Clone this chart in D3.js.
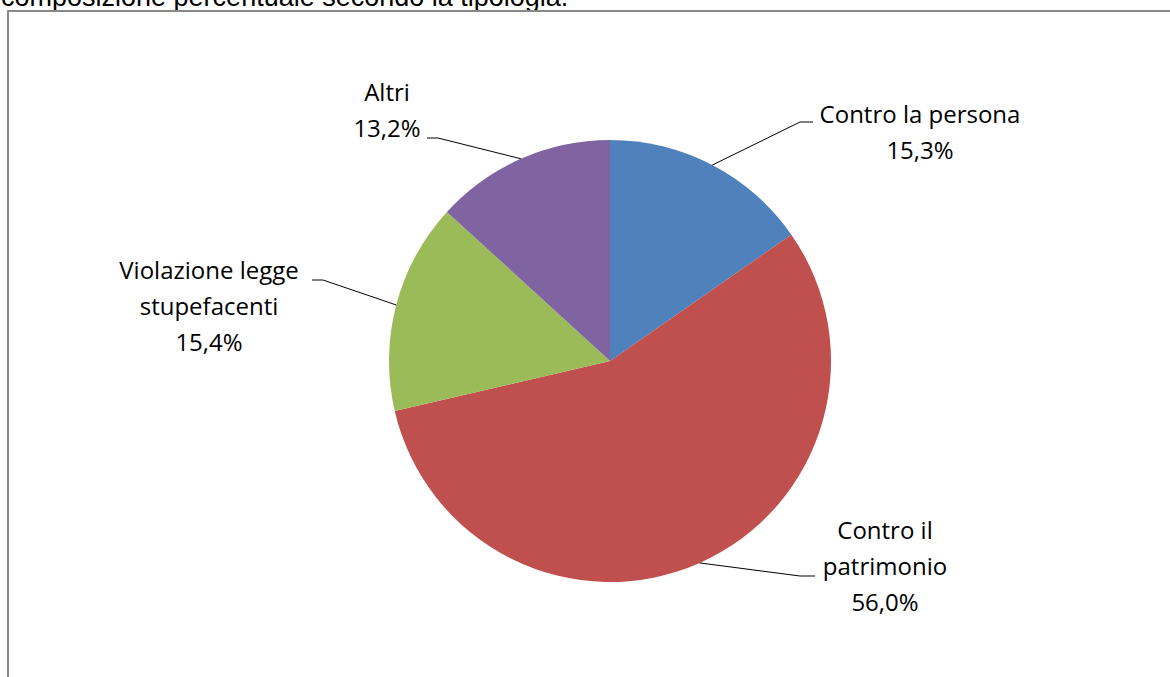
<!DOCTYPE html>
<html><head><meta charset="utf-8">
<script src="https://cdn.jsdelivr.net/npm/d3@7"></script>
<style>html,body{margin:0;padding:0;background:#fff;overflow:hidden}</style>
</head><body>
<svg id="c" width="1170" height="677"></svg>
<script>
const categories = ["Contro la persona", "Contro il patrimonio", "Violazione legge stupefacenti", "Altri"];
const values = [15.3, 56.0, 15.4, 13.2];
const valueLabels = ["15,3%", "56,0%", "15,4%", "13,2%"];
const labelLines = [["Contro la persona", "15,3%"], ["Contro il", "patrimonio", "56,0%"], ["Violazione legge", "stupefacenti", "15,4%"], ["Altri", "13,2%"]];
const colors = ["#4F81BD", "#C0504D", "#9BBB59", "#8064A2"];
const title = "composizione percentuale secondo la tipologia.";

const svg = d3.select("#c");
svg.append("text").attr("x", 1).attr("y", 6).attr("font-family", "Liberation Sans, Arial, sans-serif")
  .attr("font-size", 27).attr("fill", "#000").text(title);
svg.append("rect").attr("x", 8).attr("y", 11).attr("width", 1200).attr("height", 700)
  .attr("fill", "none").attr("stroke", "#888").attr("stroke-width", 2);

const cx = 610, cy = 361, r = 221;
const pie = d3.pie().sort(null).value(d => d)(values);
const arc = d3.arc().innerRadius(0).outerRadius(r);
const g = svg.append("g").attr("transform", `translate(${cx},${cy})`);
g.selectAll("path").data(pie).join("path").attr("d", arc).attr("fill", (d, i) => colors[i]);

const labelPos = [
  {x: 920, y: 123, elbow: [800, 122], end: [813, 122]},
  {x: 885, y: 539, elbow: [800, 576], end: [815, 576]},
  {x: 209, y: 279, elbow: [323, 280], end: [312, 280]},
  {x: 387, y: 101, elbow: [438, 138], end: [427, 138]}
];
const lh = 36;
pie.forEach((d, i) => {
  const a = (d.startAngle + d.endAngle) / 2;
  const px = cx + Math.sin(a) * r, py = cy - Math.cos(a) * r;
  const lp = labelPos[i];
  svg.append("polyline").attr("points", [[px, py], lp.elbow, lp.end].map(p => p.join(",")).join(" "))
    .attr("fill", "none").attr("stroke", "#000").attr("stroke-width", 1);
  const t = svg.append("text").attr("text-anchor", "middle")
    .attr("font-family", "Open Sans, sans-serif").attr("font-size", 24).attr("fill", "#000");
  labelLines[i].forEach((s, j) => t.append("tspan").attr("x", lp.x).attr("y", lp.y + j * lh).text(s));
});
</script>
</body></html>
